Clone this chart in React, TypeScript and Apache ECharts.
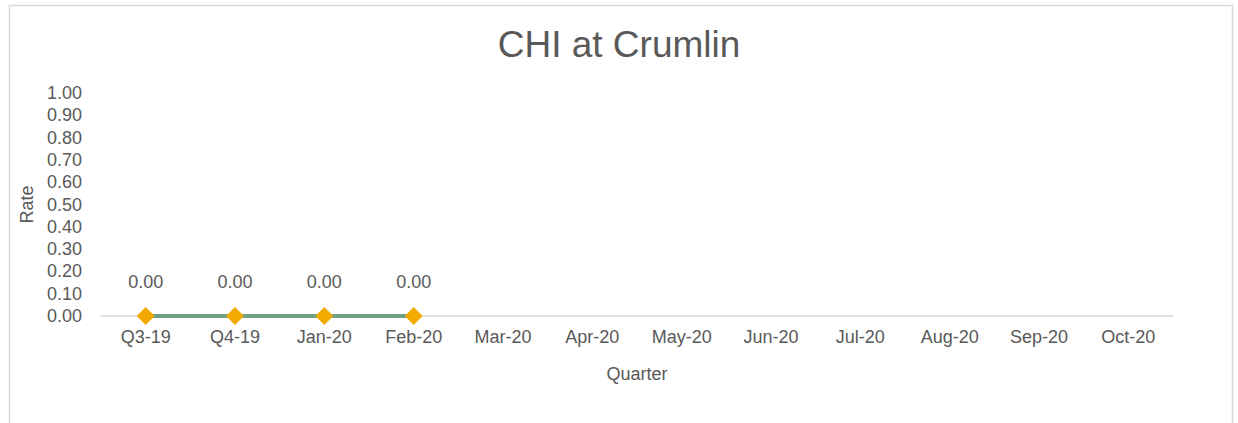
import React, { useEffect, useRef } from "react";
import * as echarts from "echarts";

const categories = ["Q3-19", "Q4-19", "Jan-20", "Feb-20", "Mar-20", "Apr-20", "May-20", "Jun-20", "Jul-20", "Aug-20", "Sep-20", "Oct-20"];
const rateValues: (number | null)[] = [0, 0, 0, 0, null, null, null, null, null, null, null, null];
const titleText = "CHI at Crumlin";
const xAxisName = "Quarter";
const yAxisName = "Rate";

const FONT = "'Liberation Sans', Arial, sans-serif";
const TXT = "#595959";

export default function App() {
  const ref = useRef<HTMLDivElement>(null);
  useEffect(() => {
    if (!ref.current) return;
    const chart = echarts.init(ref.current, undefined, { renderer: "svg" });
    chart.setOption({
      animation: false,
      backgroundColor: "#ffffff",
      textStyle: { fontFamily: FONT, color: TXT },
      title: {
        text: titleText,
        left: "center",
        top: 21,
        textStyle: { fontFamily: FONT, fontSize: 37, fontWeight: "normal", color: TXT },
      },
      graphic: [
        {
          type: "rect",
          shape: { x: 9.5, y: 5.5, width: 1223, height: 440 },
          style: { fill: "none", stroke: "#d9d9d9", lineWidth: 1.5 },
          silent: true,
          z: -1,
        },
      ],
      grid: { left: 101, right: 65, top: 93, bottom: 107, containLabel: false },
      xAxis: {
        type: "category",
        data: categories,
        boundaryGap: true,
        name: xAxisName,
        nameLocation: "middle",
        nameGap: 49,
        nameTextStyle: { fontFamily: FONT, fontSize: 18, color: TXT },
        axisLine: { show: true, lineStyle: { color: "#d9d9d9", width: 1.5 } },
        axisTick: { show: false },
        axisLabel: { fontFamily: FONT, fontSize: 18, color: TXT, margin: 12, interval: 0 },
        splitLine: { show: false },
      },
      yAxis: {
        type: "value",
        min: 0,
        max: 1,
        interval: 0.1,
        name: yAxisName,
        nameLocation: "middle",
        nameGap: 64,
        nameTextStyle: { fontFamily: FONT, fontSize: 18, color: TXT },
        axisLine: { show: false },
        axisTick: { show: false },
        splitLine: { show: false },
        axisLabel: {
          fontFamily: FONT,
          fontSize: 18,
          color: TXT,
          margin: 19,
          formatter: (v: number) => v.toFixed(2),
        },
      },
      series: [
        {
          type: "line",
          data: rateValues,
          connectNulls: false,
          symbol: "diamond",
          symbolSize: 18,
          itemStyle: { color: "#f2a900" },
          lineStyle: { color: "#70a085", width: 4 },
          label: {
            show: true,
            position: "top",
            distance: 16,
            fontFamily: FONT,
            fontSize: 18,
            color: TXT,
            formatter: (p: any) => (p.value == null ? "" : Number(p.value).toFixed(2)),
          },
          z: 3,
        },
      ],
    });
    return () => chart.dispose();
  }, []);
  return (
    <div
      ref={ref}
      style={{ position: "absolute", left: 0, top: 0, width: 1238, height: 423, background: "#fff" }}
    />
  );
}
